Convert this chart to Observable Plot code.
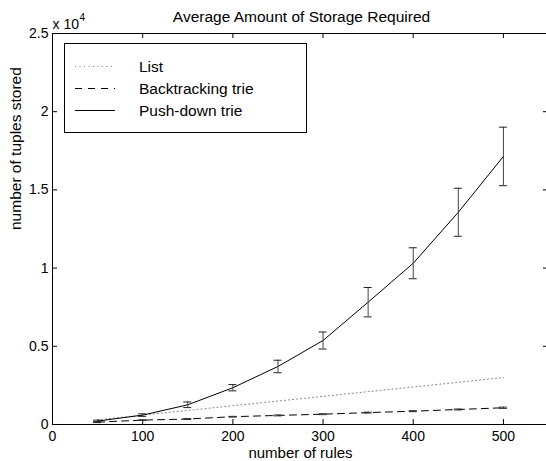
<!DOCTYPE html>
<html><head><meta charset="utf-8">
<script src="https://cdn.jsdelivr.net/npm/d3@7"></script>
<script src="https://cdn.jsdelivr.net/npm/@observablehq/plot@0.6"></script>
<style>
body{margin:0;background:#fff;}
#chart{width:546px;height:461px;}
</style>
</head><body><div id="chart"></div>
<script>
const rules = [50,100,150,200,250,300,350,400,450,500];
const listTuples = [300,600,900,1200,1500,1800,2100,2400,2700,3000];
const backtrackTuples = [150,280,350,500,580,660,760,850,960,1070];
const backtrackErr = [30,20,30,20,30,30,30,30,30,40];
const pushdownTuples = [220,600,1260,2350,3710,5370,7820,10310,13570,17140];
const pushdownErr = [60,80,180,200,400,545,940,990,1535,1870];
const xTicks = [0,100,200,300,400,500];
const yTicks = [0,5000,10000,15000,20000,25000];
const yTickLabels = ["0","0.5","1","1.5","2","2.5"];
const seriesNames = ["List","Backtracking trie","Push-down trie"];
const titleText = "Average Amount of Storage Required";
const xLabel = "number of rules";
const yLabel = "number of tuples stored";

const listData = rules.map((r,i)=>({x:r,y:listTuples[i]}));
const btData = rules.map((r,i)=>({x:r,y:backtrackTuples[i],lo:backtrackTuples[i]-backtrackErr[i],hi:backtrackTuples[i]+backtrackErr[i]}));
const pdData = rules.map((r,i)=>({x:r,y:pushdownTuples[i],lo:pushdownTuples[i]-pushdownErr[i],hi:pushdownTuples[i]+pushdownErr[i]}));

const W = 546, H = 461;
const mL = 52, mR = -2, mT = 33, mB = 37;
const fw = W - mL - mR, fh = H - mT - mB;
const font = "Liberation Sans, Arial, Helvetica, sans-serif";
const fs = 14;    // tick labels
const fl = 15.5;  // title, axis labels, legend

const svg = Plot.plot({
  width: W, height: H,
  marginLeft: mL, marginRight: mR, marginTop: mT, marginBottom: mB,
  style: {fontFamily: font, fontSize: fs + "px", background: "#fff", color: "#000", overflow: "visible"},
  x: {domain: [0, 550]},
  y: {domain: [0, 25000]},
  marks: [
    Plot.frame({stroke: "#000", strokeWidth: 1}),
    Plot.ruleX(xTicks.slice(1), {x: d => d, insetTop: fh - 5, stroke: "#000"}),
    Plot.ruleX(xTicks.slice(1), {x: d => d, insetBottom: fh - 5, stroke: "#000"}),
    Plot.ruleY(yTicks.slice(1), {y: d => d, insetRight: fw - 5, stroke: "#000"}),
    Plot.ruleY(yTicks.slice(1), {y: d => d, insetLeft: fw - 5, stroke: "#000"}),
    Plot.axisX(xTicks, {tickSize: 0, tickPadding: 7, label: null, fontSize: fs, tickFormat: d => String(d)}),
    Plot.axisY(yTicks, {tickSize: 0, tickPadding: 4, label: null, fontSize: fs, tickFormat: (d,i) => yTickLabels[i]}),
    // list
    Plot.line(listData, {x: "x", y: "y", stroke: "#808080", strokeWidth: 1, strokeDasharray: "1,3"}),
    // backtracking
    Plot.line(btData, {x: "x", y: "y", stroke: "#000", strokeWidth: 1, strokeDasharray: "7,5"}),
    Plot.ruleX(btData, {x: "x", y1: "lo", y2: "hi", stroke: "#333"}),
    Plot.ruleY(btData, {y: "lo", x1: "x", x2: "x", insetLeft: -4, insetRight: -4, stroke: "#333"}),
    Plot.ruleY(btData, {y: "hi", x1: "x", x2: "x", insetLeft: -4, insetRight: -4, stroke: "#333"}),
    // push-down
    Plot.line(pdData, {x: "x", y: "y", stroke: "#000", strokeWidth: 1}),
    Plot.ruleX(pdData, {x: "x", y1: "lo", y2: "hi", stroke: "#444"}),
    Plot.ruleY(pdData, {y: "lo", x1: "x", x2: "x", insetLeft: -4, insetRight: -4, stroke: "#222"}),
    Plot.ruleY(pdData, {y: "hi", x1: "x", x2: "x", insetLeft: -4, insetRight: -4, stroke: "#222"}),
    // texts
    Plot.text([titleText], {frameAnchor: "top", lineAnchor: "bottom", dx: 1, dy: -11.5, fontSize: fl, fill: "#000"}),
    Plot.text(["x 10"], {frameAnchor: "top-left", textAnchor: "start", lineAnchor: "bottom", dy: -5, fontSize: fs, fill: "#000"}),
    Plot.text(["4"], {frameAnchor: "top-left", textAnchor: "start", lineAnchor: "bottom", dx: 27, dy: -13, fontSize: 10, fill: "#000"}),
    Plot.text([xLabel], {frameAnchor: "bottom", lineAnchor: "bottom", dy: 33.5, fontSize: 15, fill: "#000"}),
    Plot.text([yLabel], {frameAnchor: "left", lineAnchor: "bottom", rotate: -90, dx: -31.5, dy: 1, fontSize: fl, fill: "#000"})
  ]
});

// legend box
const s = d3.select(svg);
const lg = s.append("g").attr("font-family", font).attr("font-size", fl).attr("text-anchor", "start");
lg.append("rect").attr("x", 64.5).attr("y", 43.5).attr("width", 242).attr("height", 89)
  .attr("fill", "#fff").attr("stroke", "#000").attr("stroke-width", 1);
const legendStyles = [
  {stroke: "#808080", dash: "1,3.5"},
  {stroke: "#000", dash: "7,6"},
  {stroke: "#000", dash: null}
];
seriesNames.forEach((name, i) => {
  const y = 66 + i * 22;
  const ln = lg.append("line").attr("x1", 75).attr("x2", 115).attr("y1", y + 0.5).attr("y2", y + 0.5)
    .attr("stroke", legendStyles[i].stroke).attr("stroke-width", 1);
  if (legendStyles[i].dash) ln.attr("stroke-dasharray", legendStyles[i].dash);
  lg.append("text").attr("x", 139).attr("y", y + 5.5).attr("fill", "#000").attr("text-anchor", "start").text(name);
});

document.getElementById("chart").appendChild(svg);
</script>
</body></html>
